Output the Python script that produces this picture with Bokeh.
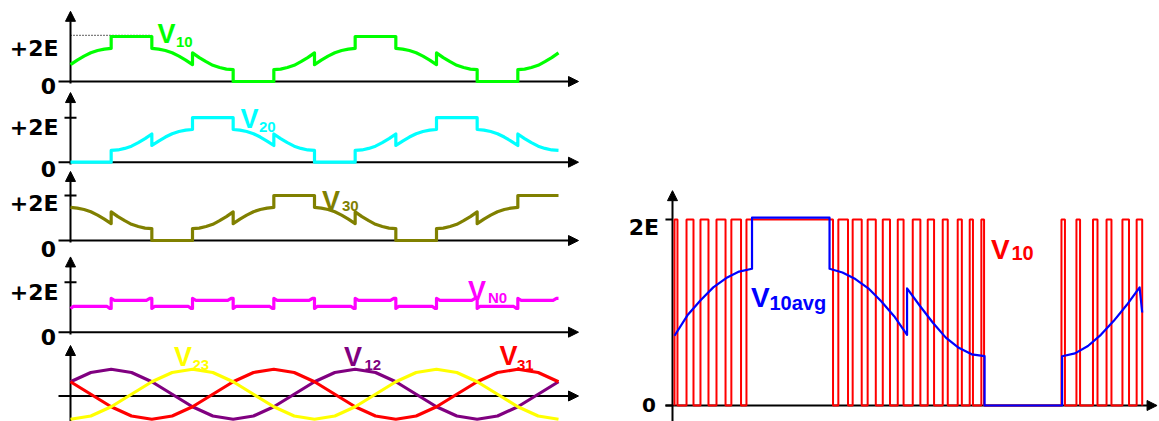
from bokeh.plotting import figure
from bokeh.models import Range1d, Arrow, NormalHead, Label
from bokeh.embed import file_html
from bokeh.resources import INLINE

W, H = 1159, 421

# ---------------- data ----------------
# Left column: time in electrical degrees (two cycles, 0..720), values in units of E
# one cycle of the clamped pole voltage V10
v10_t = [0, 10, 20, 30, 40, 50, 60, 60, 120, 120, 130, 140, 150, 160, 170, 180,
         180, 190, 200, 210, 220, 230, 240, 240, 300, 300, 310, 320, 330, 340, 350, 360]
v10_v = [0.75, 0.95, 1.13, 1.28, 1.38, 1.44, 1.47, 2.0, 2.0, 1.47, 1.44, 1.38, 1.28, 1.13, 0.95, 0.75,
         1.27, 1.06, 0.88, 0.72, 0.62, 0.55, 0.53, 0.0, 0.0, 0.53, 0.55, 0.62, 0.72, 0.88, 1.06, 1.27]
pole_names = ["V10", "V20", "V30"]
pole_shift = [0, 120, 240]          # V20, V30 lag V10 by 120 and 240 degrees
pole_colors = ["#00FF00", "#00FFFF", "#808000"]

# neutral-point voltage VN0, one 120-degree cycle
vn0_t = [0, 4, 54, 58, 60, 60, 65, 112, 117, 120]
vn0_v = [0.95, 1.03, 1.03, 0.95, 0.95, 1.35, 1.27, 1.27, 1.35, 1.35]

# line-to-line voltages (per unit of their amplitude, relative to the axis)
ll_t = [0, 30, 60, 90, 120, 150, 180, 210, 240, 270, 300, 330, 360,
        390, 420, 450, 480, 510, 540, 570, 600, 630, 660, 690, 720]
v12 = [0.57, 0.94, 1.07, 0.94, 0.57, 0.07, -0.43, -0.80, -0.93, -0.80, -0.43, 0.07, 0.57,
       0.94, 1.07, 0.94, 0.57, 0.07, -0.43, -0.80, -0.93, -0.80, -0.43, 0.07, 0.57]
v23 = [-0.93, -0.80, -0.43, 0.07, 0.57, 0.94, 1.07, 0.94, 0.57, 0.07, -0.43, -0.80, -0.93,
       -0.80, -0.43, 0.07, 0.57, 0.94, 1.07, 0.94, 0.57, 0.07, -0.43, -0.80, -0.93]
v31 = [0.57, 0.07, -0.43, -0.80, -0.93, -0.80, -0.43, 0.07, 0.57, 0.94, 1.07, 0.94, 0.57,
       0.07, -0.43, -0.80, -0.93, -0.80, -0.43, 0.07, 0.57, 0.94, 1.07, 0.94, 0.57]

# Right: one cycle (degrees) of the PWM pole voltage V10 and its average
avg_t = [0, 10, 20, 30, 40, 50, 60, 60, 120, 120, 130, 140, 150, 160, 170, 180,
         180, 190, 200, 210, 220, 230, 240, 240, 300, 300, 310, 320, 330, 340, 350, 360, 362]
avg_v = [0.75, 0.97, 1.13, 1.27, 1.37, 1.44, 1.47, 2.02, 2.02, 1.47, 1.43, 1.36, 1.26, 1.12, 0.96, 0.76,
         1.26, 1.07, 0.89, 0.73, 0.62, 0.55, 0.53, 0.0, 0.0, 0.53, 0.56, 0.64, 0.76, 0.91, 1.08, 1.27, 1.0]
pwm_on = [0, 9.3, 20.1, 32.5, 44.0, 55.7, 126.8, 137.9, 149.5, 161.2, 172.8, 184.4, 196.0,
          207.6, 219.2, 228.5, 237.5, 299.5, 311.1, 323.9, 334.4, 346.7, 357.7]
pwm_off = [2.3, 14.7, 26.3, 39.5, 51.5, 122.7, 134.3, 144.9, 155.8, 166.8, 177.3, 190.3, 200.9,
           211.5, 222.4, 231.0, 239.6, 302.2, 313.9, 327.4, 338.2, 351.8, 362.0]


def periodic(ts, vs, period, shift, t0=0, t1=720):
    pts = []
    for k in range(-2, int(t1 / period) + 2):
        for t, v in zip(ts, vs):
            tt = t + shift + k * period
            if t0 <= tt <= t1:
                pts.append((tt, v))
    while len(pts) > 1 and pts[0][0] == pts[1][0]:
        pts.pop(0)
    while len(pts) > 1 and pts[-1][0] == pts[-2][0]:
        pts.pop()
    return [q[0] for q in pts], [q[1] for q in pts]


# ---------------- figure: one canvas, a pair of ranges per panel ----------------
kx = 488 / 720.0                       # px per degree, left column
L_start = -70 / kx
kr = 1.292                             # px per degree, right panel
R_start = -674 / kr


def yr(y0, s):
    # y0: pixel row of the zero line, s: px per unit
    return Range1d((y0 - H) / s, y0 / s)


panels = {"p1": (81.0, 22.5), "p2": (161.7, 22.25), "p3": (240.0, 22.5),
          "p4": (331.7, 25.0), "p5": (395.5, 25.0), "r": (405.0, 93.0)}

p = figure(width=W, height=H, output_backend="svg", toolbar_location=None,
           x_range=Range1d(L_start, L_start + W / kx), y_range=yr(*panels["p1"]),
           x_axis_type=None, y_axis_type=None, min_border=0,
           outline_line_color=None, background_fill_color="white")
p.xgrid.visible = False
p.ygrid.visible = False
p.extra_x_ranges = {"R": Range1d(R_start, R_start + W / kr)}
p.extra_y_ranges = {k: yr(*v) for k, v in panels.items() if k != "p1"}


def yname(k):
    return "default" if k == "p1" else k


def arrow(xn, yn, xs, ys, xe, ye):
    p.add_layout(Arrow(end=NormalHead(size=10, fill_color="black", line_color="black", line_width=1),
                       x_start=xs, y_start=ys, x_end=xe, y_end=ye, line_color="black",
                       line_width=2, x_range_name=xn, y_range_name=yn, level="underlay"))


# left axes
axis_extent = {"p1": (-0.09, 3.12), "p2": (-0.1, 3.13), "p3": (-0.09, 3.07),
               "p4": (-0.09, 3.01), "p5": (-1.02, 2.02)}
for k, (lo, hi) in axis_extent.items():
    arrow("default", yname(k), 0, lo, 0, hi)
    arrow("default", yname(k), -17.7, 0, 749.5, 0)
for k in ["p2", "p3", "p4"]:
    p.segment(x0=[-8.85], y0=[2], x1=[8.85], y1=[2], line_color="black", line_width=2,
              y_range_name=k)
# dotted 2E reference in the first panel
p.line([0, 120], [2.05, 2.05], line_color="black", line_width=1.3, line_dash="1 2")

# right axes
arrow("R", "r", -1.55, -0.17, -1.55, 2.31)
arrow("R", "r", -7.0, 0, 373.5, 0)
p.segment(x0=[-7.0, -7.0], y0=[0, 2], x1=[-1.55, -1.55], y1=[0, 2], line_color="black",
          line_width=2, x_range_name="R", y_range_name="r")

# ---------------- waveforms ----------------
for name, sh, col, k in zip(pole_names, pole_shift, pole_colors, ["p1", "p2", "p3"]):
    xs, ys = periodic(v10_t, v10_v, 360, sh)
    p.line(xs, ys, line_color=col, line_width=3.2, line_join="round", y_range_name=yname(k))

xs, ys = periodic(vn0_t, vn0_v, 120, 0)
p.line(xs, ys, line_color="#FF00FF", line_width=3.2, line_join="round", y_range_name="p4")

p.line(ll_t, v12, line_color="#800080", line_width=3.2, line_join="round", y_range_name="p5")
p.line(ll_t, v31, line_color="#FF0000", line_width=3.2, line_join="round", y_range_name="p5")
p.line(ll_t, v23, line_color="#FFFF00", line_width=3.2, line_join="round", y_range_name="p5")

pwm_t, pwm_v = [0.0], [0.0]
for a, b in zip(pwm_on, pwm_off):
    pwm_t += [a, a, b, b]
    pwm_v += [0, 2, 2, 0]
p.line(pwm_t, pwm_v, line_color="#FF0000", line_width=2, x_range_name="R", y_range_name="r")
p.line(avg_t, avg_v, line_color="#0000FF", line_width=2.2, line_join="round",
       x_range_name="R", y_range_name="r")

# ---------------- texts (screen positions: x from left, y from bottom) ----------------
def txt(text, X, Ybase, size, color="black", align="left", font="Liberation Sans",
        baseline="alphabetic"):
    p.add_layout(Label(x=X, y=H - Ybase, x_units="screen", y_units="screen", text=text,
                       text_font=font, text_font_style="bold", text_font_size=f"{size}px",
                       text_color=color, text_align=align, text_baseline=baseline))


tick_font = "DejaVu Sans"
for lab, X, Yb in [("+2E", 58.0, 48.3), ("0", 55.5, 85.0),
                   ("+2E", 58.0, 126.7), ("0", 55.5, 168.3),
                   ("+2E", 58.0, 203.3), ("0", 55.5, 248.3),
                   ("+2E", 58.0, 291.7), ("0", 55.5, 336.7),
                   ("2E", 658.5, 226.7)]:
    txt(lab, X, Yb, 22, align="right", font=tick_font)
txt("0", 655.5, 404.5, 20, align="right", font=tick_font, baseline="middle")

big, sub = 27, 15
for main_x, sub_x, yb, ys_, s, col in [(157, 175.5, 33.3, 41.7, "10", "#00FF00"),
                                       (240, 258.5, 118.3, 126.7, "20", "#00FFFF"),
                                       (321.5, 341.5, 200.0, 205.0, "30", "#808000"),
                                       (467.5, 487.5, 290.0, 296.7, "N0", "#FF00FF"),
                                       (173.5, 192.0, 356.0, 364.7, "23", "#FFFF00"),
                                       (343.6, 364.0, 356.0, 364.7, "12", "#800080"),
                                       (499.0, 516.5, 355.0, 364.7, "31", "#FF0000")]:
    txt("V", main_x, yb, big, col)
    txt(s, sub_x, ys_, sub, col)

txt("V", 990.5, 249.0, 28, "#FF0000")
txt("10", 1011.0, 252.0, 20, "#FF0000")
txt("V", 750.5, 297.0, 28, "#0000FF")
txt("10avg", 769.0, 302.5, 20, "#0000FF")

open("out.html", "w").write(file_html(p, INLINE))
